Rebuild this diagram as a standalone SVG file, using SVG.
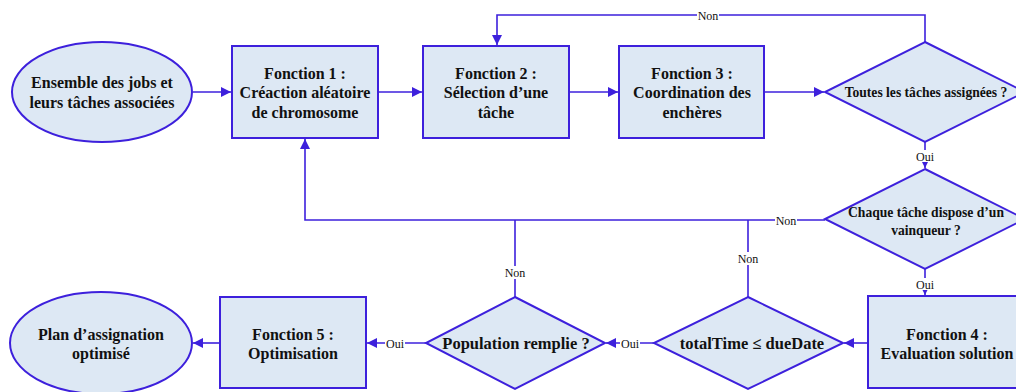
<svg xmlns="http://www.w3.org/2000/svg" width="1016" height="392" viewBox="0 0 1016 392">
<style>
.s{fill:#dde8f4;stroke:#3d20dc;stroke-width:2}
.c{fill:none;stroke:#3d20dc;stroke-width:1.6}
text{font-family:'Liberation Serif','Times New Roman',serif}
.t{font-weight:bold;font-size:16px;fill:#111;text-anchor:middle}
.ts{font-size:13.6px}
.tl{font-size:16.5px}
.l{font-size:12px;fill:#111;text-anchor:middle}
.lb{fill:#fff}
</style>
<defs>
<marker id="a" viewBox="0 0 10 10" refX="10" refY="5" markerWidth="10" markerHeight="10" markerUnits="userSpaceOnUse" orient="auto">
<path d="M0,0 L10,5 L0,10 z" fill="#3d20dc"/>
</marker>
</defs>
<rect width="1016" height="392" fill="#fff"/>
<g id="connectors">
<path class="c" d="M193,92 H231" marker-end="url(#a)"/>
<path class="c" d="M378,92 H422" marker-end="url(#a)"/>
<path class="c" d="M569,92 H618" marker-end="url(#a)"/>
<path class="c" d="M764,92 H824" marker-end="url(#a)"/>
<path class="c" d="M925,42 V15 H497 V45" marker-end="url(#a)"/>
<path class="c" d="M925,142 V168" marker-end="url(#a)"/>
<path class="c" d="M825,220 H305 V139" marker-end="url(#a)"/>
<path class="c" d="M925,269 V295" marker-end="url(#a)"/>
<path class="c" d="M868,343 H844" marker-end="url(#a)"/>
<path class="c" d="M748,297 V220"/>
<path class="c" d="M515,297 V220"/>
<path class="c" d="M654,343 H606" marker-end="url(#a)"/>
<path class="c" d="M426,343 H367" marker-end="url(#a)"/>
<path class="c" d="M220,343 H193" marker-end="url(#a)"/>
<g>
<rect class="lb" x="697" y="9" width="22" height="13"/>
<text class="l" x="708" y="19.5">Non</text>
<rect class="lb" x="915" y="150" width="20" height="12"/>
<text class="l" x="925" y="160.5">Oui</text>
<rect class="lb" x="775" y="214" width="22" height="13"/>
<text class="l" x="786" y="224.5">Non</text>
<rect class="lb" x="504" y="266" width="22" height="13"/>
<text class="l" x="515" y="276.5">Non</text>
<rect class="lb" x="737" y="252" width="22" height="13"/>
<text class="l" x="748" y="262.5">Non</text>
<rect class="lb" x="915" y="278" width="20" height="12"/>
<text class="l" x="925" y="288.5">Oui</text>
<rect class="lb" x="620" y="337" width="20" height="12"/>
<text class="l" x="630" y="347.5">Oui</text>
<rect class="lb" x="385" y="337" width="20" height="12"/>
<text class="l" x="395" y="347.5">Oui</text>
</g>
</g>
<g id="start">
<ellipse class="s" cx="102" cy="92" rx="90" ry="50"/>
<text class="t" x="102" y="87.5">Ensemble des jobs et</text>
<text class="t" x="102" y="107.5">leurs tâches associées</text>
</g>
<g id="f1">
<rect class="s" x="232" y="46" width="146" height="92"/>
<text class="t" x="305" y="78.5">Fonction 1 :</text>
<text class="t" x="305" y="97.5">Créaction aléatoire</text>
<text class="t" x="305" y="117.5">de chromosome</text>
</g>
<g id="f2">
<rect class="s" x="423" y="46" width="146" height="92"/>
<text class="t" x="496" y="78.5">Fonction 2 :</text>
<text class="t" x="496" y="97.5">Sélection d’une</text>
<text class="t" x="496" y="117.5">tâche</text>
</g>
<g id="f3">
<rect class="s" x="619" y="46" width="145" height="92"/>
<text class="t" x="692" y="78.5">Fonction 3 :</text>
<text class="t" x="692" y="97.5">Coordination des</text>
<text class="t" x="692" y="117.5">enchères</text>
</g>
<g id="d1">
<polygon class="s" points="925,42 1025,92 925,142 825,92"/>
<text class="t ts" x="926" y="96.5">Toutes les tâches assignées ?</text>
</g>
<g id="d2">
<polygon class="s" points="925,169 1025,219 925,269 825,219"/>
<text class="t ts" x="926" y="216.5">Chaque tâche dispose d’un</text>
<text class="t ts" x="926" y="234.5">vainqueur ?</text>
</g>
<g id="f4">
<rect class="s" x="868" y="296" width="158" height="92"/>
<text class="t" x="947" y="339.5">Fonction 4 :</text>
<text class="t" x="947" y="358.5">Evaluation solution</text>
</g>
<g id="d3">
<polygon class="s" points="748,297 843,343 748,389 654,343"/>
<text class="t tl" x="752" y="349">totalTime ≤ dueDate</text>
</g>
<g id="d4">
<polygon class="s" points="515,297 605,343 515,389 426,343"/>
<text class="t tl" x="516" y="349">Population remplie ?</text>
</g>
<g id="f5">
<rect class="s" x="220" y="297" width="146" height="91"/>
<text class="t" x="293" y="339.5">Fonction 5 :</text>
<text class="t" x="293" y="358.5">Optimisation</text>
</g>
<g id="end">
<ellipse class="s" cx="101" cy="343" rx="91" ry="51"/>
<text class="t" x="101" y="339.5">Plan d’assignation</text>
<text class="t" x="101" y="358.5">optimisé</text>
</g>
</svg>
